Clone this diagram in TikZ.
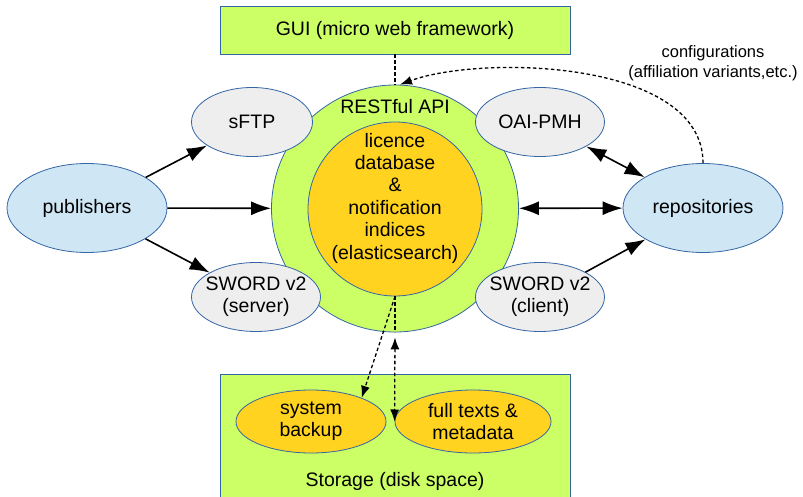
\documentclass[tikz,border=0pt]{standalone}
\usepackage{fontspec}
\setmainfont{Liberation Sans}
\usetikzlibrary{positioning,shapes,arrows.meta}

\definecolor{lime}{HTML}{CCFF66}
\definecolor{edge}{HTML}{3465A4}
\definecolor{pale}{HTML}{EEEEEE}
\definecolor{sky}{HTML}{CFE7F5}
\definecolor{gold}{HTML}{FFD320}

\tikzset{
	txt/.style={align=center, inner sep=0pt, font=\fontsize{19.5}{22.4}\selectfont},
	note/.style={align=center, inner sep=0pt, font=\fontsize{16.5}{20.5}\selectfont},
	blob/.style={ellipse, draw=edge, line width=0.8pt, inner sep=0pt},
	proto/.style={blob, fill=pale, minimum width=129pt, minimum height=69pt},
	party/.style={blob, fill=sky, minimum width=160pt, minimum height=89pt},
	store/.style={blob, fill=gold, minimum height=63pt},
	panel/.style={rectangle, draw=edge, fill=lime, line width=0.8pt, minimum width=350pt},
	hint/.style={line width=1.3pt, dash pattern=on 3.5pt off 2.5pt, >={Latex[length=12pt,width=9pt]}}
}

\begin{document}
\begin{tikzpicture}[x=1pt, y=-1pt, line width=1.6pt, >={Latex[length=20pt,width=14pt]}]
		\clip (0,0) rectangle (803,497);

		%the front end and the storage
		\node[panel, minimum height=48pt] (gui) at (395,30) {};
		\node[txt] (guitxt) at (gui) {GUI (micro web framework)};
		\node[panel, minimum height=140pt] (disk) at (395,444) {};
		\node[txt] (disktxt) at (395,481) {Storage (disk space)};

		%the api and the indices
		\node[circle, draw=edge, fill=lime, line width=0.8pt, minimum size=247pt, inner sep=0pt] (circ) at (395,208.5) {};
		\node[txt] (api) at (395,107) {RESTful API};
		\node[blob, fill=gold, minimum width=174pt, minimum height=174pt,
			label={[txt, yshift=11pt]center:licence\\database\\\&\\notification\\indices\\(elasticsearch)}] (core) at (395,209) {};

		%the protocols
		\node[proto, minimum width=121pt, label={[txt]center:sFTP}] (sftp) at (252,122) {};
		\node[proto, label={[txt]center:OAI-PMH}] (oai) at (540,122) {};
		\node[proto, label={[txt]center:SWORD v2\\(server)}] (server) at (256,297) {};
		\node[proto, label={[txt]center:SWORD v2\\(client)}] (client) at (540,297) {};

		%the outside parties
		\node[party, label={[txt]center:publishers}] (pub) at (87,208) {};
		\node[party, label={[txt]center:repositories}] (repo) at (703,208) {};

		%the disks
		\node[store, minimum width=150pt, label={[txt]center:system\\backup}] (backup) at (311,421.5) {};
		\node[store, minimum width=156pt, label={[txt]center:full texts \&\\metadata}] (full) at (473,421.5) {};

		% deposits and harvesting
		\draw[->] (pub) -- (sftp);
		\draw[->] (pub) -- (circ);
		\draw[->] (pub) -- (server);
		\draw[<->] (oai) -- (repo);
		\draw[<->] (circ) -- (repo);
		\draw[->] (client) -- (repo);

		% configuration and storage links
		\draw[hint] (gui) -- (circ);
		\draw[hint,->] (repo.north) .. controls +(0,-104) and (480,55) .. ([xshift=5pt]circ.north);
		\node[note] (cfg) at (713,63) {configurations\\(affiliation variants,etc.)};
		\draw[hint,->] (core.south) -- (backup.25);
		\draw[hint] (core.south) -- (circ.south);
		\draw[hint,<->,shorten <=5pt] (circ.south) -- (full.west);

	\end{tikzpicture}
\end{document}
